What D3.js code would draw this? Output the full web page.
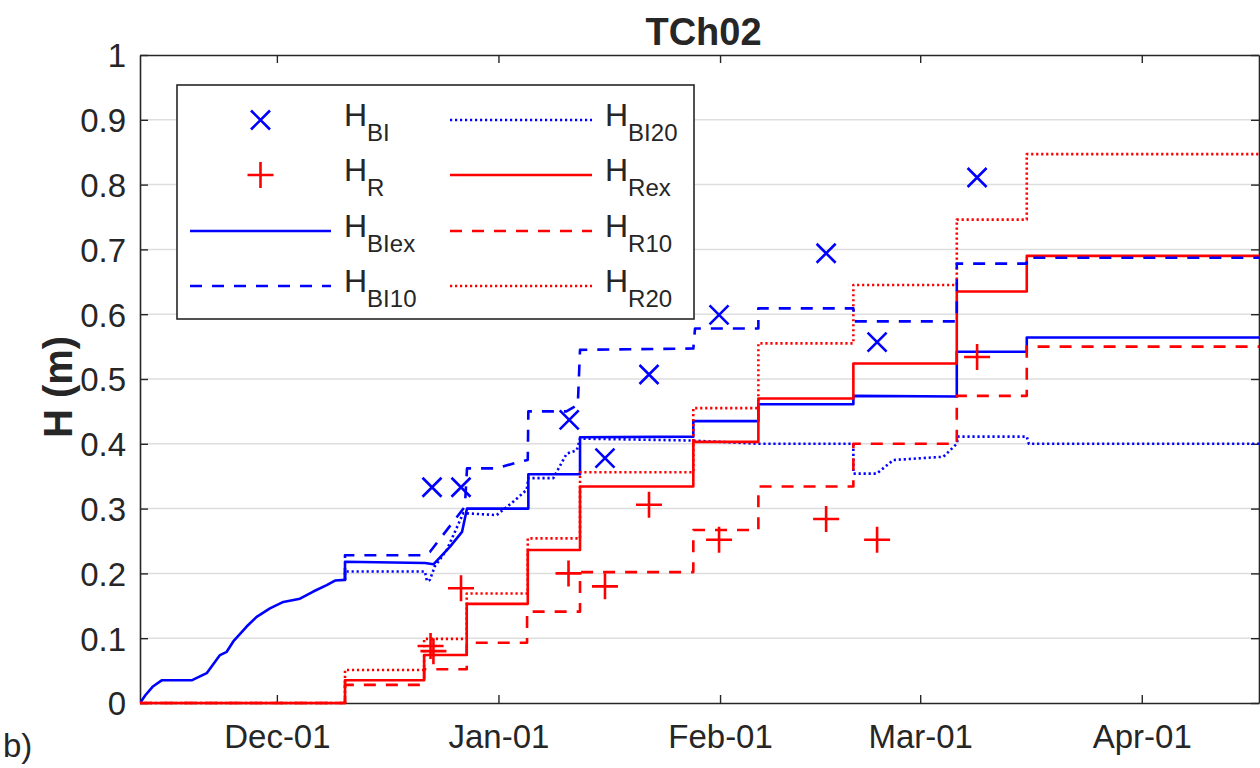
<!DOCTYPE html>
<html><head><meta charset="utf-8">
<script src="https://cdn.jsdelivr.net/npm/d3@7"></script>
<style>
body{margin:0;background:#fff}
svg{display:block}
text{font-family:"Liberation Sans",Arial,Helvetica,sans-serif;fill:#262626}
</style>
</head><body>
<svg id="chart" width="1260" height="768"></svg>
<script>
// ---------------- data (x values are days after 1 December) ----------------
const title = "TCh02";
const yLabel = "H (m)";
const xDomainDays = [-19.15, 137.4];
const xTickDays = [0, 31, 62, 90, 121];
const xTickLabels = ["Dec-01", "Jan-01", "Feb-01", "Mar-01", "Apr-01"];
const yTickValues = [0, 0.1, 0.2, 0.3, 0.4, 0.5, 0.6, 0.7, 0.8, 0.9, 1];
const yTickLabels = ["0", "0.1", "0.2", "0.3", "0.4", "0.5", "0.6", "0.7", "0.8", "0.9", "1"];

// measured points
const hBIDays   = [21.70, 25.76, 40.9, 45.9, 52.06, 61.86, 76.84, 83.97, 97.96];
const hBIValues = [0.333, 0.333, 0.437, 0.378, 0.507, 0.599, 0.694, 0.557, 0.811];
const hRDays    = [21.5, 21.9, 25.76, 40.8, 45.9, 52.06, 61.86, 76.84, 83.97, 97.96];
const hRValues  = [0.088, 0.080, 0.177, 0.200, 0.180, 0.306, 0.252, 0.284, 0.252, 0.534];

// H_BIex (solid blue) vertices
const hBIexDays = [-19.15,-18.4,-17.4,-16.12,-11.92,-9.82,-7.96,-7.02,-6.10,-4.23,-2.83,-0.97,0.90,3.23,5.09,6.97,8.13,9.53,9.53,20.72,21.9,24.2,25.9,26.6,35.18,35.18,42.41,42.41,58.26,58.26,67.36,67.36,80.65,80.65,95.12,95.12,104.91,104.91,137.4];
const hBIexValues = [0,0.012,0.025,0.035,0.035,0.046,0.074,0.079,0.095,0.118,0.133,0.146,0.156,0.161,0.172,0.182,0.189,0.190,0.218,0.216,0.214,0.241,0.264,0.300,0.300,0.353,0.353,0.410,0.411,0.435,0.435,0.461,0.461,0.474,0.473,0.542,0.542,0.564,0.564];

// H_BI10 (dashed blue) vertices
const hBI10Days = [9.53,9.53,20.6,21.4,26.3,26.6,30.75,33.8,35.1,35.18,40.5,42.1,42.41,58.26,58.5,67.36,67.36,80.65,80.8,95.12,95.12,104.91,104.91,137.4];
const hBI10Values = [0.190,0.228,0.228,0.233,0.303,0.362,0.362,0.372,0.375,0.450,0.450,0.460,0.545,0.547,0.578,0.578,0.609,0.609,0.589,0.589,0.678,0.678,0.687,0.687];

// H_BI20 (dotted blue) vertices
const hBI20Days = [9.53,9.53,20.7,21.0,21.4,22.1,23.76,26.08,30.75,33.0,34.95,35.18,38.67,40.55,41.95,42.41,58.26,67.36,80.65,80.65,83.92,86.25,93.24,95.12,95.3,104.91,105.2,137.4];
const hBI20Values = [0.190,0.203,0.203,0.188,0.190,0.211,0.236,0.293,0.290,0.310,0.329,0.347,0.347,0.385,0.390,0.408,0.405,0.400,0.400,0.354,0.354,0.375,0.380,0.400,0.411,0.411,0.400,0.400];

// step series (value holds from each day until the next)
const hRexDays   = [-19.15, 9.53, 20.6, 26.56, 35.1, 42.41, 58.26, 67.36, 80.65, 95.12, 104.91, 137.4];
const hRexValues = [0, 0.035, 0.074, 0.153, 0.236, 0.334, 0.403, 0.470, 0.524, 0.635, 0.690, 0.690];
const hR10Days   = [-19.15, 9.53, 20.6, 26.56, 35.0, 42.41, 58.26, 67.36, 80.65, 95.12, 104.91, 137.4];
const hR10Values = [0, 0.028, 0.052, 0.093, 0.141, 0.202, 0.267, 0.334, 0.400, 0.474, 0.550, 0.550];
const hR20Days   = [-19.15, 9.53, 20.6, 26.56, 35.1, 42.41, 58.26, 67.36, 80.65, 95.12, 104.91, 137.4];
const hR20Values = [0, 0.051, 0.099, 0.169, 0.254, 0.356, 0.455, 0.555, 0.645, 0.746, 0.847, 0.847];

const legendNames = [["H","BI"],["H","R"],["H","BIex"],["H","BI10"],["H","BI20"],["H","Rex"],["H","R10"],["H","R20"]];

// ---------------- drawing ----------------
const BLUE = "#0000ff", RED = "#ff0000", AX = "#262626";
const base = new Date(2016, 11, 1);
const toDate = d => new Date(base.getTime() + d * 864e5);
const zip = (a, b) => a.map((v, i) => [v, b[i]]);

const svg = d3.select("#chart");
const L = 140, R = 1259, T = 55, B = 703;
const x = d3.scaleTime().domain(xDomainDays.map(toDate)).range([L, R]);
const y = d3.scaleLinear().domain([0, 1]).range([B, T]);

svg.append("defs").append("clipPath").attr("id", "clip")
  .append("rect").attr("x", L).attr("y", T - 2).attr("width", R - L).attr("height", B - T + 4);

// grid
svg.append("g").selectAll("line").data(yTickValues.slice(1, -1)).join("line")
  .attr("x1", L).attr("x2", R).attr("y1", d => y(d)).attr("y2", d => y(d))
  .attr("stroke", "#dedede").attr("stroke-width", 1.5);

// axes
const xAxis = d3.axisBottom(x).tickValues(xTickDays.map(toDate))
  .tickFormat((d, i) => xTickLabels[i]).tickSizeInner(-8).tickSizeOuter(0).tickPadding(22);
const gx = svg.append("g").attr("transform", `translate(0,${B})`).call(xAxis);
const xTop = d3.axisTop(x).tickValues(xTickDays.map(toDate)).tickFormat("").tickSizeInner(-8).tickSizeOuter(0);
const gxt = svg.append("g").attr("transform", `translate(0,${T})`).call(xTop);
const yAxis = d3.axisLeft(y).tickValues(yTickValues).tickFormat((d, i) => yTickLabels[i])
  .tickSizeInner(-8).tickSizeOuter(0).tickPadding(14);
const gy = svg.append("g").attr("transform", `translate(${L},0)`).call(yAxis);
const yRight = d3.axisRight(y).tickValues(yTickValues).tickFormat("").tickSizeInner(-8).tickSizeOuter(0);
const gyr = svg.append("g").attr("transform", `translate(${R},0)`).call(yRight);
[gx, gxt, gy, gyr].forEach(g => {
  g.select(".domain").attr("stroke", AX).attr("stroke-width", 1.6);
  g.selectAll(".tick line").attr("stroke", AX).attr("stroke-width", 1.4);
  g.selectAll(".tick text").attr("font-size", 33).attr("fill", AX)
   .attr("font-family", '"Liberation Sans",Arial,sans-serif');
});
gy.selectAll(".tick text").attr("dy", "0.36em");

// title & labels
svg.append("text").attr("x", (L + R) / 2 + 4).attr("y", 45).attr("text-anchor", "middle")
  .attr("font-size", 38).attr("font-weight", "bold").attr("fill", "#000").text(title);
svg.append("text").attr("transform", `translate(72,387) rotate(-90)`).attr("text-anchor", "middle")
  .attr("font-size", 40).attr("font-weight", "bold").attr("fill", "#000").text(yLabel);
svg.append("text").attr("x", 3).attr("y", 757).attr("font-size", 33).attr("fill", "#000").text("b)");

// series
const plot = svg.append("g").attr("clip-path", "url(#clip)");
const lin = d3.line().x(d => x(toDate(d[0]))).y(d => y(d[1]));
const stp = d3.line().x(d => x(toDate(d[0]))).y(d => y(d[1])).curve(d3.curveStepAfter);
const DASH = "12,10", DOT = "2.2,2.8";
const series = [
  {pts: zip(hBIexDays, hBIexValues), gen: lin, color: BLUE, dash: null},
  {pts: zip(hBI20Days, hBI20Values), gen: lin, color: BLUE, dash: DOT},
  {pts: zip(hRexDays, hRexValues), gen: stp, color: RED, dash: null},
  {pts: zip(hR10Days, hR10Values), gen: stp, color: RED, dash: DASH},
  {pts: zip(hR20Days, hR20Values), gen: stp, color: RED, dash: DOT},
  {pts: zip(hBI10Days, hBI10Values), gen: lin, color: BLUE, dash: DASH}
];
series.forEach(s => {
  plot.append("path").attr("d", s.gen(s.pts)).attr("fill", "none")
    .attr("stroke", s.color).attr("stroke-width", 2.6)
    .attr("stroke-dasharray", s.dash).attr("stroke-linejoin", "round");
});
const crossPath = r => `M${-r},${-r}L${r},${r}M${-r},${r}L${r},${-r}`;
const plusPath = r => `M${-r},0L${r},0M0,${-r}L0,${r}`;
plot.append("g").selectAll("path").data(zip(hBIDays, hBIValues)).join("path")
  .attr("transform", d => `translate(${x(toDate(d[0]))},${y(d[1])})`)
  .attr("d", crossPath(9.5)).attr("stroke", BLUE).attr("stroke-width", 2.6).attr("fill", "none");
plot.append("g").selectAll("path").data(zip(hRDays, hRValues)).join("path")
  .attr("transform", d => `translate(${x(toDate(d[0]))},${y(d[1])})`)
  .attr("d", plusPath(13)).attr("stroke", RED).attr("stroke-width", 2.6).attr("fill", "none");

// legend
const lg = svg.append("g");
lg.append("rect").attr("x", 177).attr("y", 85).attr("width", 517).attr("height", 234)
  .attr("fill", "#fff").attr("stroke", AX).attr("stroke-width", 1.6);
const rowsY = [120, 175, 231, 286];
const items = [
  {col: 0, row: 0, type: "cross", color: BLUE},
  {col: 0, row: 1, type: "plus", color: RED},
  {col: 0, row: 2, type: "line", color: BLUE, dash: null},
  {col: 0, row: 3, type: "line", color: BLUE, dash: DASH},
  {col: 1, row: 0, type: "line", color: BLUE, dash: DOT},
  {col: 1, row: 1, type: "line", color: RED, dash: null},
  {col: 1, row: 2, type: "line", color: RED, dash: DASH},
  {col: 1, row: 3, type: "line", color: RED, dash: DOT}
];
const colX = [[190, 331, 344], [450, 592, 605]];
items.forEach((it, i) => {
  const [x1, x2, tx] = colX[it.col];
  const yy = rowsY[it.row];
  if (it.type === "line") {
    lg.append("line").attr("x1", x1).attr("x2", x2).attr("y1", yy).attr("y2", yy)
      .attr("stroke", it.color).attr("stroke-width", 2.6).attr("stroke-dasharray", it.dash);
  } else {
    lg.append("path").attr("transform", `translate(${(x1 + x2) / 2},${yy})`)
      .attr("d", it.type === "cross" ? crossPath(9.5) : plusPath(13))
      .attr("stroke", it.color).attr("stroke-width", 2.6).attr("fill", "none");
  }
  const t = lg.append("text").attr("x", tx).attr("y", yy + 6).attr("fill", "#000");
  t.append("tspan").attr("font-size", 32).text(legendNames[i][0]);
  t.append("tspan").attr("font-size", 24).attr("dy", 15).text(legendNames[i][1]);
});
</script>
</body></html>
